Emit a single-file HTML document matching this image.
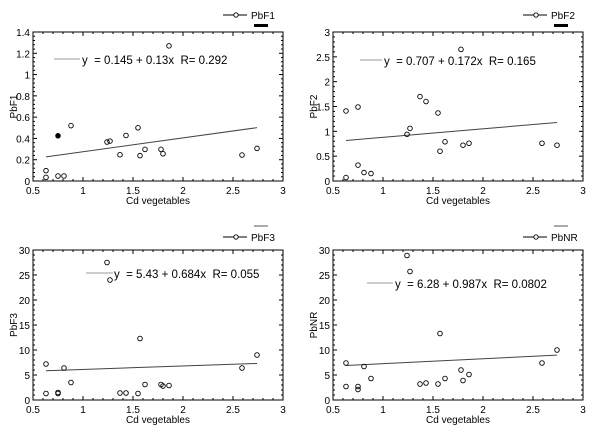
<!DOCTYPE html>
<html><head><meta charset="utf-8"><style>
html,body{margin:0;padding:0;background:#fff;}
svg{display:block;font-family:"Liberation Sans",Arial,sans-serif;}
svg text{white-space:pre;}
</style></head><body>
<svg id="c" width="600" height="434" xmlns="http://www.w3.org/2000/svg"></svg>
<script>
const xVals = [0.63,0.63,0.75,0.75,0.81,0.88,1.24,1.27,1.37,1.43,1.55,1.57,1.62,1.78,1.80,1.86,2.59,2.74];
const pbf1 = [0.097,0.034,0.425,0.047,0.047,0.52,0.366,0.375,0.247,0.428,0.5,0.238,0.297,0.297,0.256,1.27,0.244,0.306];
const pbf2 = [1.41,0.07,1.49,0.32,0.17,0.15,0.94,1.06,1.70,1.60,1.37,0.60,0.79,2.65,0.72,0.76,0.76,0.72];
const pbf3 = [7.2,1.3,1.5,1.3,6.4,3.5,27.5,24,1.4,1.4,1.3,12.3,3.1,3.1,2.8,2.9,6.4,9.0];
const pbnr = [7.4,2.7,2.7,2.1,6.7,4.3,28.9,25.7,3.2,3.4,3.2,13.3,4.3,6.0,3.9,5.1,7.4,10.0];
const xTicks = [0.5,1,1.5,2,2.5,3];
const yTicks1 = [0,0.2,0.4,0.6,0.8,1,1.2,1.4];
const yTicks2 = [0,0.5,1,1.5,2,2.5,3];
const yTicks3 = [0,5,10,15,20,25,30];
const fits = [[0.145,0.13],[0.707,0.172],[5.43,0.684],[6.28,0.987]];
const fitTexts = ["y  = 0.145 + 0.13x  R= 0.292","y  = 0.707 + 0.172x  R= 0.165","y  = 5.43 + 0.684x  R= 0.055","y  = 6.28 + 0.987x  R= 0.0802"];
const names = ["PbF1","PbF2","PbF3","PbNR"];

const svg = document.getElementById('c');
const NS = "http://www.w3.org/2000/svg";
function mk(tag, attrs, parent){
  const e = document.createElementNS(NS, tag);
  for (const k in attrs) e.setAttribute(k, attrs[k]);
  (parent||svg).appendChild(e);
  return e;
}
const panels = [
  {ox:0, oy:0, top:32, bot:181, ys:pbf1, yt:yTicks1, ymax:1.4, eqLine:[54,80,59], eqX:82, eqY:64, leg:15, bar:'#000', barY:24},
  {ox:300, oy:0, top:32, bot:181, ys:pbf2, yt:yTicks2, ymax:3, eqLine:[360,382,60], eqX:384, eqY:65, leg:15, bar:'#000', barY:24},
  {ox:0, oy:220, top:250, bot:400, ys:pbf3, yt:yTicks3, ymax:30, eqLine:[86,113,273], eqX:114, eqY:278, leg:237, bar:'#aaa', barY:225},
  {ox:300, oy:220, top:250, bot:400, ys:pbnr, yt:yTicks3, ymax:30, eqLine:[367,393,283], eqX:395, eqY:288, leg:237, bar:'#aaa', barY:225}
];
panels.forEach((p, i) => {
  const g = mk('g', {});
  
  
  const L = p.ox + 33, R = p.ox + 283;
  const sx = v => L + (v - 0.5) / 2.5 * (R - L);
  const sy = v => p.bot - v / p.ymax * (p.bot - p.top);
  const frame = mk('rect', {x:L, y:p.top, width:R-L, height:p.bot-p.top, fill:'none', stroke:'#000', 'stroke-width':1}, g);
  
  
  for (let k = 0; k <= 25; k++) {
    const v = 0.5 + k * 0.1, X = sx(v), major = k % 5 === 0, len = major ? 4 : 2;
    mk('line', {x1:X, x2:X, y1:p.bot, y2:p.bot-len, stroke:'#000'}, g);
    mk('line', {x1:X, x2:X, y1:p.top, y2:p.top+len, stroke:'#000'}, g);
  }
  xTicks.forEach(v => {
    const t = mk('text', {x:sx(v), y:p.bot+13, 'font-size':10, 'text-anchor':'middle'}, g);
    t.textContent = String(v);
    
    
  });
  const step = p.yt[1] - p.yt[0];
  for (let k = 0; k <= (p.yt.length - 1) * 5; k++) {
    const v = k * step / 5, Y = sy(v), major = k % 5 === 0, len = major ? 4 : 2;
    mk('line', {x1:L, x2:L+len, y1:Y, y2:Y, stroke:'#000'}, g);
    mk('line', {x1:R, x2:R-len, y1:Y, y2:Y, stroke:'#000'}, g);
  }
  p.yt.forEach(v => {
    const t = mk('text', {x:L-3, y:sy(v)+4, 'font-size':10, 'text-anchor':'end'}, g);
    t.textContent = String(v);
    
    
  });
  const xt = mk('text', {x:(L+R)/2, y:p.bot+23, 'font-size':10, 'text-anchor':'middle'}, g);
  xt.textContent = 'Cd vegetables';
  
  
  const yc = (p.top + p.bot) / 2;
  const yl = mk('text', {x:p.ox+17, y:yc, 'font-size':10, 'text-anchor':'middle', transform:'rotate(-90 '+(p.ox+17)+' '+yc+')'}, g);
  yl.textContent = names[i];
  
  
  const a = fits[i][0], b = fits[i][1], x0 = xVals[0], x1 = xVals[xVals.length-1];
  const fl = mk('line', {x1:sx(x0), y1:sy(a+b*x0), x2:sx(x1), y2:sy(a+b*x1), stroke:'#444', 'stroke-width':1}, g);
  
  
  xVals.forEach((xv, j) => {
    const c = mk('circle', {cx:sx(xv), cy:sy(p.ys[j]), r:2.3, fill:'none', stroke:'#000', 'stroke-width':0.9}, g);
    
    
  });
  if (i === 0) {
    const c = mk('circle', {cx:sx(xVals[2]), cy:sy(pbf1[2]), r:2.5, fill:'#000'}, g);
    
    
  }
  const el = mk('line', {x1:p.eqLine[0], x2:p.eqLine[1], y1:p.eqLine[2], y2:p.eqLine[2], stroke:'#999', 'stroke-width':1}, g);
  
  
  const et = mk('text', {x:p.eqX, y:p.eqY, 'font-size':11.5}, g);
  et.textContent = fitTexts[i];
  
  
  const lg = mk('g', {}, g);
  
  
  mk('line', {x1:p.ox+223, x2:p.ox+247, y1:p.leg, y2:p.leg, stroke:'#000'}, lg);
  mk('circle', {cx:p.ox+236, cy:p.leg, r:2.2, fill:'#fff', stroke:'#000', 'stroke-width':0.9}, lg);
  const lt = mk('text', {x:p.ox+251, y:p.leg+4, 'font-size':10}, lg);
  lt.textContent = names[i];
  const br = mk('rect', {x:p.ox+254, y:p.barY, width:14, height:p.bar==='#000'?3:2, fill:p.bar}, g);
  
  
});
</script>
</body></html>
